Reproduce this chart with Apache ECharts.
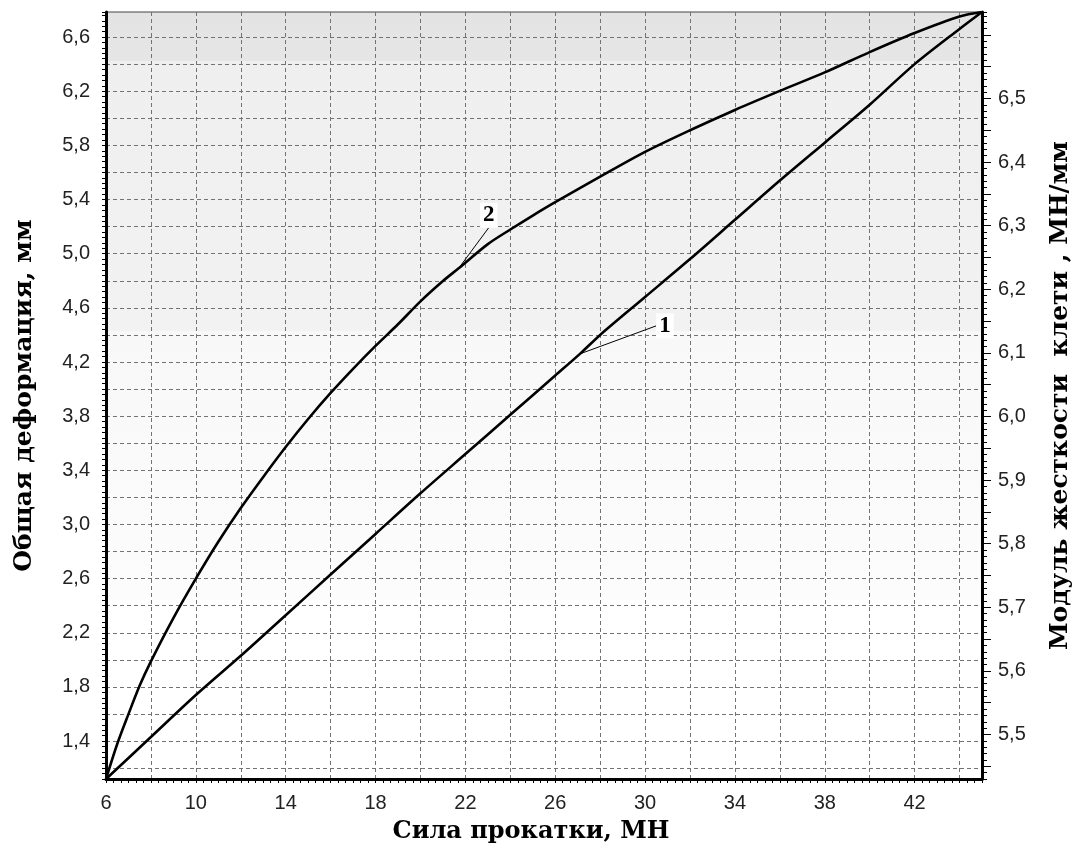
<!DOCTYPE html>
<html>
<head>
<meta charset="utf-8">
<script src="https://cdn.jsdelivr.net/npm/echarts@6/dist/echarts.min.js"></script>
<style>
  html, body { margin: 0; padding: 0; background: #fff; }
  #chart { width: 1084px; height: 854px; }
</style>
</head>
<body>
<div id="chart"></div>
<script>
// curve 1: общая деформация (left axis)
const force1 = [6, 8, 10, 12, 14, 16, 18, 20, 22, 24, 26, 27.1, 28, 30, 32, 34, 36, 38, 40, 42, 44, 45]
const deform1 = [1.12, 1.43, 1.74, 2.03, 2.33, 2.63, 2.93, 3.23, 3.52, 3.81, 4.10, 4.26, 4.40, 4.68, 4.96, 5.25, 5.54, 5.82, 6.10, 6.40, 6.66, 6.785]
const label1Index = 11

// curve 2: модуль жесткости (right axis)
const force2 = [6, 6.5, 7, 7.5, 8, 9, 10, 11, 12, 13, 14, 15, 16, 17, 18, 19, 20, 21, 21.7, 23, 24, 25, 26, 28, 30, 32, 34, 36, 38, 40, 42, 44, 45]
const stiff2 = [5.430, 5.485, 5.532, 5.577, 5.615, 5.683, 5.745, 5.803, 5.856, 5.905, 5.952, 5.996, 6.037, 6.075, 6.111, 6.145, 6.181, 6.213, 6.233, 6.271, 6.294, 6.316, 6.337, 6.377, 6.416, 6.450, 6.482, 6.512, 6.541, 6.573, 6.603, 6.629, 6.636]
const label2Index = 18

// tick labels
const xLabels = [6, 10, 14, 18, 22, 26, 30, 34, 38, 42]
const leftLabels = [1.4, 1.8, 2.2, 2.6, 3.0, 3.4, 3.8, 4.2, 4.6, 5.0, 5.4, 5.8, 6.2, 6.6]
const leftGridLines = [1.2, 1.4, 1.6, 1.8, 2.0, 2.2, 2.4, 2.6, 2.8, 3.0, 3.2, 3.4, 3.6, 3.8, 4.0, 4.2, 4.4, 4.6, 4.8, 5.0, 5.2, 5.4, 5.6, 5.8, 6.0, 6.2, 6.4, 6.6]
const rightLabels = [5.5, 5.6, 5.7, 5.8, 5.9, 6.0, 6.1, 6.2, 6.3, 6.4, 6.5]
const rightLongTicks = [5.45, 5.5, 5.55, 5.6, 5.65, 5.7, 5.75, 5.8, 5.85, 5.9, 5.95, 6.0, 6.05, 6.1, 6.15, 6.2, 6.25, 6.3, 6.35, 6.4, 6.45, 6.5, 6.55, 6.6]

const leftMin = 1.12
const leftMax = 6.785
const rightMin = 5.43
const rightMax = 6.636

const comma = v => Number(v).toFixed(1).replace('.', ',')
const tickFont = { fontFamily: 'Liberation Sans', fontSize: 20, color: '#222' }
const nameFont = { fontFamily: 'DejaVu Serif', fontWeight: 'bold', fontSize: 25, color: '#000' }
const axisBlack = { show: true, lineStyle: { color: '#000', width: 3 } }
const gridDash = { show: true, lineStyle: { color: '#737373', width: 1, type: [4, 3] } }
const markText = {
  show: true,
  position: 'inside',
  fontFamily: 'Liberation Serif',
  fontWeight: 'bold',
  fontSize: 23,
  color: '#000',
  backgroundColor: '#fff',
  padding: [1, 3]
}

const chart = echarts.init(document.getElementById('chart'))

const option = {
  animation: false,
  backgroundColor: '#fff',
  grid: {
    left: 106,
    right: 102,
    top: 12,
    bottom: 75,
    show: true,
    borderColor: '#444',
    borderWidth: 1,
    backgroundColor: new echarts.graphic.LinearGradient(0, 0, 0, 1, [
      { offset: 0, color: '#e3e3e3' },
      { offset: 0.065, color: '#e6e6e6' },
      { offset: 0.0651, color: '#efefef' },
      { offset: 0.416, color: '#f2f2f2' },
      { offset: 0.4161, color: '#f8f8f8' },
      { offset: 0.766, color: '#fcfcfc' },
      { offset: 0.7661, color: '#ffffff' },
      { offset: 1, color: '#ffffff' }
    ])
  },
  xAxis: {
    type: 'value',
    min: 6,
    max: 45,
    interval: 2,
    name: 'Сила прокатки, МН',
    nameLocation: 'middle',
    nameGap: 41,
    nameTextStyle: { fontFamily: 'DejaVu Serif', fontWeight: 'bold', fontSize: 24, color: '#000', padding: [0, 26, 0, 0] },
    axisLine: axisBlack,
    axisTick: { show: true, length: 4, lineStyle: { color: '#000' } },
    minorTick: { show: true, splitNumber: 6, length: 4, lineStyle: { color: '#000' } },
    axisLabel: Object.assign({ customValues: xLabels, margin: 14 }, tickFont),
    splitLine: gridDash
  },
  yAxis: [
    {
      type: 'value',
      position: 'left',
      min: leftMin,
      max: leftMax,
      interval: 0.04,
      name: 'Общая деформация, мм',
      nameLocation: 'middle',
      nameRotate: 90,
      nameGap: 69,
      nameTextStyle: nameFont,
      axisLine: axisBlack,
      axisTick: { show: true, length: 4, lineStyle: { color: '#000' } },
      axisLabel: Object.assign({ customValues: leftLabels, margin: 16, formatter: comma }, tickFont),
      splitLine: { show: false }
    },
    {
      type: 'value',
      position: 'right',
      min: rightMin,
      max: rightMax,
      interval: 0.01,
      name: 'Модуль жесткости  клети , МН/мм',
      nameLocation: 'middle',
      nameRotate: 90,
      nameGap: 66,
      nameTextStyle: nameFont,
      axisLine: axisBlack,
      axisTick: { show: true, length: 5, lineStyle: { color: '#000' } },
      axisLabel: Object.assign({ customValues: rightLabels, margin: 16, formatter: comma }, tickFont),
      splitLine: { show: false }
    },
    {
      // dashed horizontal grid
      type: 'value',
      position: 'left',
      min: leftMin,
      max: leftMax,
      axisLine: { show: false },
      axisTick: { show: false, customValues: leftGridLines },
      axisLabel: { show: false },
      splitLine: gridDash
    },
    {
      // longer ticks on right axis
      type: 'value',
      position: 'right',
      min: rightMin,
      max: rightMax,
      axisLine: { show: false },
      axisTick: { show: true, length: 9, customValues: rightLongTicks, lineStyle: { color: '#000' } },
      axisLabel: { show: false },
      splitLine: { show: false }
    }
  ],
  series: [
    {
      name: '1',
      type: 'line',
      yAxisIndex: 0,
      smooth: 0.3,
      symbol: 'circle',
      symbolSize: 1,
      itemStyle: { color: '#000' },
      lineStyle: { color: '#000', width: 2.6 },
      data: force1.map((f, i) => i === label1Index
        ? { value: [f, deform1[i]], label: Object.assign({ formatter: '1' }, markText) }
        : [f, deform1[i]]),
      labelLayout: { dx: 85, dy: -28 },
      labelLine: { show: true, lineStyle: { color: '#000', width: 1 } },
      z: 5
    },
    {
      name: '2',
      type: 'line',
      yAxisIndex: 1,
      smooth: 0.3,
      symbol: 'circle',
      symbolSize: 1,
      itemStyle: { color: '#000' },
      lineStyle: { color: '#000', width: 2.6 },
      data: force2.map((f, i) => i === label2Index
        ? { value: [f, stiff2[i]], label: Object.assign({ formatter: '2' }, markText) }
        : [f, stiff2[i]]),
      labelLayout: { dx: 30, dy: -53 },
      labelLine: { show: true, lineStyle: { color: '#000', width: 1 } },
      z: 5
    }
  ]
}

chart.setOption(option)
</script>
</body>
</html>
